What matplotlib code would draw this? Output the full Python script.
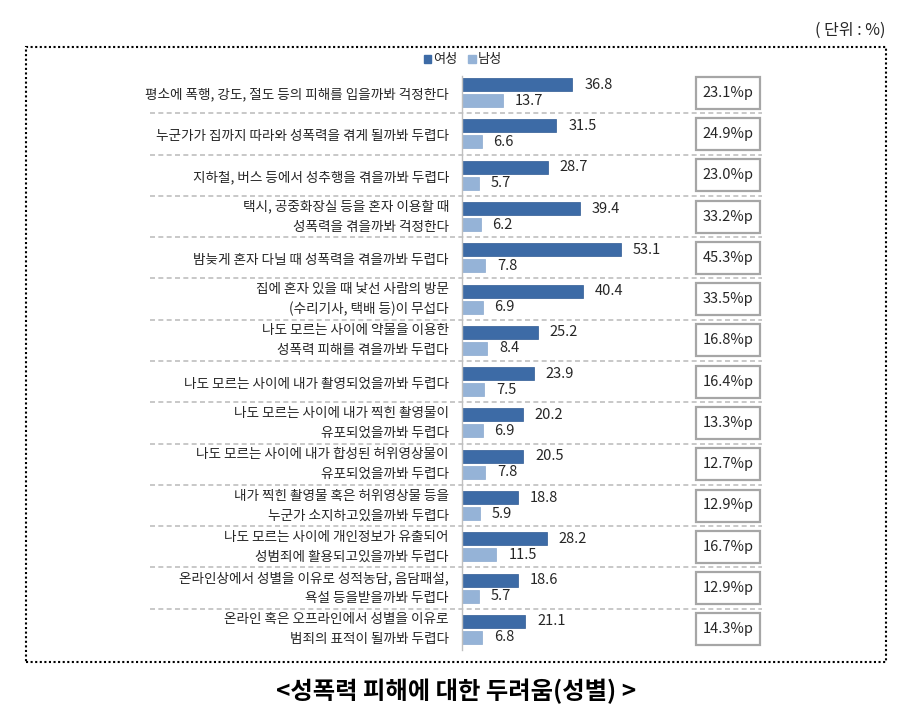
import matplotlib
matplotlib.use("Agg")
import matplotlib.pyplot as plt
from matplotlib.patches import Rectangle, Patch

plt.rcParams['font.family'] = ['Noto Sans CJK KR', 'DejaVu Sans']

labels = [
    "평소에 폭행, 강도, 절도 등의 피해를 입을까봐 걱정한다",
    "누군가가 집까지 따라와 성폭력을 겪게 될까봐 두렵다",
    "지하철, 버스 등에서 성추행을 겪을까봐 두렵다",
    "택시, 공중화장실 등을 혼자 이용할 때\n성폭력을 겪을까봐 걱정한다",
    "밤늦게 혼자 다닐 때 성폭력을 겪을까봐 두렵다",
    "집에 혼자 있을 때 낯선 사람의 방문\n(수리기사, 택배 등)이 무섭다",
    "나도 모르는 사이에 약물을 이용한\n성폭력 피해를 겪을까봐 두렵다",
    "나도 모르는 사이에 내가 촬영되었을까봐 두렵다",
    "나도 모르는 사이에 내가 찍힌 촬영물이\n유포되었을까봐 두렵다",
    "나도 모르는 사이에 내가 합성된 허위영상물이\n유포되었을까봐 두렵다",
    "내가 찍힌 촬영물 혹은 허위영상물 등을\n누군가 소지하고있을까봐 두렵다",
    "나도 모르는 사이에 개인정보가 유출되어\n성범죄에 활용되고있을까봐 두렵다",
    "온라인상에서 성별을 이유로 성적농담, 음담패설,\n욕설 등을받을까봐 두렵다",
    "온라인 혹은 오프라인에서 성별을 이유로\n범죄의 표적이 될까봐 두렵다",
]
women = [36.8, 31.5, 28.7, 39.4, 53.1, 40.4, 25.2, 23.9, 20.2, 20.5, 18.8, 28.2, 18.6, 21.1]
men = [13.7, 6.6, 5.7, 6.2, 7.8, 6.9, 8.4, 7.5, 6.9, 7.8, 5.9, 11.5, 5.7, 6.8]
diffs = ["23.1%p", "24.9%p", "23.0%p", "33.2%p", "45.3%p", "33.5%p", "16.8%p",
         "16.4%p", "13.3%p", "12.7%p", "12.9%p", "16.7%p", "12.9%p", "14.3%p"]
series_names = ["여성", "남성"]
title = "<성폭력 피해에 대한 두려움(성별) >"
unit = "( 단위 : %)"

W, H = 920, 715
C_W = "#3D6BA6"
C_M = "#95B3D7"
TXT = "#262626"

fig = plt.figure(figsize=(W / 100, H / 100), dpi=100)

ax_left, ax_right = 462, 760
ax_top, ax_bot = 72, 650
ax = fig.add_axes([ax_left / W, 1 - ax_bot / H, (ax_right - ax_left) / W, (ax_bot - ax_top) / H])
n = len(labels)
row_px = (ax_bot - ax_top) / n
ax.set_ylim(n - 0.5, -0.5)
ax.set_xlim(0, (ax_right - ax_left) / 3.0)
ax.axis('off')

off = 8 / row_px
bh = 13 / row_px
ys = list(range(n))
ax.barh([y - off for y in ys], women, height=bh, color=C_W, edgecolor='#2F5A93', linewidth=0.5)
ax.barh([y + off for y in ys], men, height=bh, color=C_M, edgecolor='#8AA9CF', linewidth=0.5)

for i in range(n):
    ax.annotate(f"{women[i]:.1f}", (women[i], i - off), xytext=(8.5, 0), textcoords='offset points',
                ha='left', va='center', fontsize=10.5, color=TXT)
    ax.annotate(f"{men[i]:.1f}", (men[i], i + off), xytext=(8.5, 0), textcoords='offset points',
                ha='left', va='center', fontsize=10.5, color=TXT)

ytr = ax.get_yaxis_transform()
lab_x = (449 - ax_left) / (ax_right - ax_left)
line_off = 10 / row_px
LFS = 9.8
for i, lab in enumerate(labels):
    parts = lab.split("\n")
    if len(parts) == 1:
        ax.text(lab_x, i + 0.05, parts[0], transform=ytr, ha='right', va='center',
                fontsize=LFS, color=TXT, clip_on=False)
    else:
        ax.text(lab_x, i - line_off, parts[0], transform=ytr, ha='right', va='center',
                fontsize=LFS, color=TXT, clip_on=False)
        ax.text(lab_x, i + line_off, parts[1], transform=ytr, ha='right', va='center',
                fontsize=LFS, color=TXT, clip_on=False)

sep_x0 = (150 - ax_left) / (ax_right - ax_left)
sep_x1 = (762 - ax_left) / (ax_right - ax_left)
for i in range(n - 1):
    ax.plot([sep_x0, sep_x1], [i + 0.5, i + 0.5], transform=ytr, color='#BFBFBF',
            linestyle=(0, (3, 2)), linewidth=1.2, clip_on=False)

ax.plot([0, 0], [-0.4, n - 0.5], color='#BFBFBF', linewidth=1.0, clip_on=False)

bx0 = (696 - ax_left) / (ax_right - ax_left)
bw = (760 - 696) / (ax_right - ax_left)
bhgt = 32 / row_px
for i, d in enumerate(diffs):
    ax.add_patch(Rectangle((bx0, i - bhgt / 2), bw, bhgt, transform=ytr, fill=False,
                           edgecolor='#A6A6A6', linewidth=1.6, clip_on=False))
    ax.text(bx0 + bw / 2, i, d, transform=ytr, ha='center', va='center', fontsize=10.5,
            color=TXT, clip_on=False)

handles = [Patch(facecolor=C_W, edgecolor=C_W), Patch(facecolor=C_M, edgecolor=C_M)]
fig.legend(handles, series_names, loc='center', bbox_to_anchor=(463 / W, 1 - 60 / H),
           ncol=2, frameon=False, fontsize=9.5, handlelength=0.55, handleheight=0.55,
           handletextpad=0.15, columnspacing=0.8, labelcolor=TXT)

fig.add_artist(Rectangle((26 / W, 1 - 662 / H), (886 - 26) / W, (662 - 47) / H,
                         transform=fig.transFigure, fill=False, edgecolor='black',
                         linestyle=(0, (1, 1.2)), linewidth=1.5))

fig.text(886 / W, 1 - 30 / H, unit, ha='right', va='center', fontsize=11.5, color=TXT)
fig.text(456 / W, 1 - 691 / H, title, ha='center', va='center', fontsize=17.5,
         fontweight='bold', color='black')

fig.savefig("out.png", dpi=100)
